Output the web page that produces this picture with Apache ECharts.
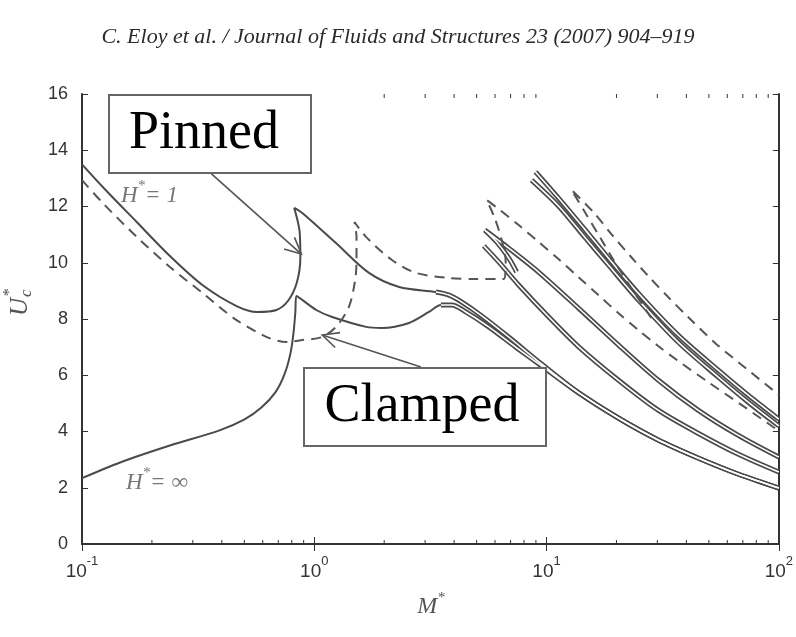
<!DOCTYPE html>
<html>
<head>
<meta charset="utf-8">
<title>Uc* vs M*</title>
<style>
html, body { width: 100%; height: 100%; margin: 0; background: #fff; }
#box1 { width: 796px; height: 637px; }
</style>
</head>
<body>
<div id="box1"></div>
<script src="https://cdn.jsdelivr.net/npm/echarts@6/dist/echarts.min.js"></script>
<script>
// axis values
var yTicks = [0, 2, 4, 6, 8, 10, 12, 14, 16];
var minorTicks = [0.2, 0.3, 0.4, 0.5, 0.6, 0.7, 0.8, 0.9, 2, 3, 4, 5, 6, 7, 8, 9, 20, 30, 40, 50, 60, 70, 80, 90];

// curves, [M*, Uc*]
var solidUpper = [[0.1,13.5],[0.124,12.66],[0.172,11.45],[0.239,10.24],[0.331,9.2],[0.463,8.46],[0.569,8.25],[0.687,8.32],[0.77,8.64],[0.84,9.28],[0.871,10.17],[0.865,11.1],[0.82,11.95],[0.888,11.77],[1.24,10.7],[1.72,9.64],[2.32,9.14],[3.34,8.96],[3.8,8.85],[4.32,8.6],[5.26,8.11],[6.87,7.36],[9.52,6.4],[13.72,5.38],[20.37,4.48],[30.24,3.7],[44.91,3.06],[66.68,2.49],[100,1.99]];
var solidLower = [[0.1,2.34],[0.146,2.9],[0.239,3.5],[0.391,4.04],[0.501,4.43],[0.592,4.85],[0.68,5.39],[0.744,6.03],[0.789,6.76],[0.813,7.47],[0.829,8.25],[0.837,8.82],[1.02,8.32],[1.195,8.07],[1.672,7.72],[1.958,7.68],[2.557,7.86],[3.116,8.25],[3.509,8.5],[3.91,8.5],[4.491,8.25],[5.638,7.72],[7.362,7.0],[9.52,6.33],[13.72,5.38],[20.37,4.48],[30.24,3.7],[44.91,3.06],[66.68,2.49],[100,1.99]];
var mode2a = [[7.43,9.67],[6.87,10.17],[6.1,10.74],[5.42,11.16],[6.87,10.52],[9.24,9.67],[13.72,8.39],[20.37,7.08],[30.24,5.83],[44.91,4.76],[66.68,3.87],[100,3.09]];
var mode2b = [[5.366,10.6],[6.223,10.03],[7.584,9.21],[10.2,8.08],[13.72,7.02],[20.37,5.83],[30.24,4.76],[44.91,3.94],[66.68,3.2],[100,2.56]];
var mode3a = [[8.97,13.23],[11.26,12.3],[14.7,11.16],[18.46,10.17],[24.82,8.92],[36.86,7.43],[54.73,6.19],[73.62,5.3],[100,4.44]];
var mode3b = [[8.62,12.94],[11.26,12.02],[14.7,10.88],[18.46,9.92],[24.82,8.68],[36.86,7.18],[54.73,5.94],[73.62,5.05],[100,4.2]];
var dashedMain = [[0.1,12.94],[0.123,12.12],[0.172,10.92],[0.239,9.85],[0.331,8.92],[0.463,7.96],[0.641,7.32],[0.76,7.18],[0.888,7.25],[1.08,7.36],[1.24,7.72],[1.41,8.43],[1.5,9.39],[1.52,10.1],[1.52,10.92],[1.49,11.45],[1.67,10.92],[2.16,10.1],[2.74,9.64],[3.79,9.46],[5.0,9.42],[6.54,9.42],[6.67,10.03],[6.41,10.81],[5.98,11.59],[5.527,12.23],[6.223,11.91],[7.584,11.34],[9.24,10.74],[11.26,10.13],[13.72,9.49],[16.72,8.85],[20.37,8.21],[24.82,7.61],[30.24,7.04],[36.86,6.51],[49.58,5.76],[70.07,4.91],[100,4.02]];
var dashedHigh = [[28.22,8.04],[23.17,9.1],[19.78,9.99],[17.06,10.88],[14.7,11.77],[12.8,12.59],[15.91,11.8],[19.01,11.02],[22.94,10.24],[27.4,9.53],[33.39,8.78],[40.68,8.07],[53.14,7.15],[73.62,6.19],[100,5.3]];

// annotation arrows [fromM, fromU, toM, toU]
var arrowPinned = [0.361, 13.16, 0.88, 10.31];
var arrowClamped = [2.88, 6.29, 1.082, 7.43];

var myChart = echarts.init(document.getElementById('box1'));

var ink = '#4a4a4a';
var serif = 'Liberation Serif';
var sans = 'Liberation Sans';

function lineSeries(data, color, width, dash) {
	return {
		type: 'line',
		data: data,
		symbol: 'none',
		smooth: 0.3,
		silent: true,
		lineStyle: { color: color, width: width, type: dash || 'solid' }
	};
}

// parts drawn as a double (outlined) line
function rightPart(data) {
	return data.filter(function (p) { return p[0] >= 3.3; });
}

var doubled = [rightPart(solidUpper), rightPart(solidLower), mode2a, mode2b, mode3a, mode3b];

var series = [];
series.push(lineSeries(solidUpper, ink, 2));
series.push(lineSeries(solidLower, ink, 2));
doubled.forEach(function (d) { series.push(lineSeries(d, ink, 5)); });
doubled.forEach(function (d) { series.push(lineSeries(d, '#fff', 1.6)); });
series.push(lineSeries(dashedMain, '#555', 2, [10, 7]));
series.push(lineSeries(dashedHigh, '#555', 2, [10, 7]));

// minor log ticks on bottom and top edges
series.push({
	type: 'custom',
	silent: true,
	data: minorTicks.map(function (v) { return [v, 0]; }),
	renderItem: function (params, api) {
		var b = api.coord([api.value(0), 0]);
		var t = api.coord([api.value(0), 16]);
		var st = { stroke: '#333', lineWidth: 1 };
		return {
			type: 'group',
			children: [
				{ type: 'line', shape: { x1: b[0], y1: b[1], x2: b[0], y2: b[1] - 4 }, style: st },
				{ type: 'line', shape: { x1: t[0], y1: t[1], x2: t[0], y2: t[1] + 4 }, style: st }
			]
		};
	}
});

// annotation arrows
series.push({
	type: 'custom',
	silent: true,
	z: 5,
	data: [arrowPinned, arrowClamped],
	renderItem: function (params, api) {
		var p = api.coord([api.value(0), api.value(1)]);
		var q = api.coord([api.value(2), api.value(3)]);
		var a = Math.atan2(q[1] - p[1], q[0] - p[0]);
		var L = 18, w = 0.45;
		var h1 = [q[0] - L * Math.cos(a - w), q[1] - L * Math.sin(a - w)];
		var h2 = [q[0] - L * Math.cos(a + w), q[1] - L * Math.sin(a + w)];
		var st = { stroke: '#555', lineWidth: 1.6, fill: null };
		return {
			type: 'group',
			children: [
				{ type: 'line', shape: { x1: p[0], y1: p[1], x2: q[0], y2: q[1] }, style: st },
				{ type: 'polyline', shape: { points: [h1, q, h2] }, style: st }
			]
		};
	}
});

var supRich = {
	b: { fontFamily: sans, fontSize: 19, color: '#333', lineHeight: 26, verticalAlign: 'bottom' },
	s: { fontFamily: sans, fontSize: 13, color: '#333', lineHeight: 26, verticalAlign: 'top' }
};

var hRich = {
	h: { font: 'italic 23px ' + serif, fill: '#777', lineHeight: 28, verticalAlign: 'bottom' },
	s: { font: 'italic 15px ' + serif, fill: '#777', lineHeight: 28, verticalAlign: 'top' }
};

var option = {
	backgroundColor: '#fff',
	animation: false,
	grid: { left: 82, right: 15, top: 94, bottom: 93, containLabel: false },
	xAxis: [{
		type: 'log', logBase: 10, min: 0.1, max: 100,
		axisLine: { lineStyle: { color: '#333', width: 2 } },
		axisTick: { inside: true, length: 7, lineStyle: { color: '#333' } },
		splitLine: { show: false },
		axisLabel: {
			margin: 11,
			formatter: function (v) {
				var e = Math.round(Math.log(v) / Math.LN10);
				return '{b|10}{s|' + e + '}';
			},
			rich: supRich
		}
	}, {
		type: 'log', logBase: 10, min: 0.1, max: 100, position: 'top',
		axisLine: { lineStyle: { color: '#333', width: 2 } },
		axisTick: { inside: true, length: 7, lineStyle: { color: '#333' } },
		splitLine: { show: false },
		axisLabel: { show: false }
	}],
	yAxis: [{
		type: 'value', min: 0, max: 16, interval: 2,
		axisLine: { show: true, lineStyle: { color: '#333', width: 2 } },
		axisTick: { show: true, inside: true, length: 6, lineStyle: { color: '#333' } },
		splitLine: { show: false },
		axisLabel: { margin: 14, fontFamily: sans, fontSize: 18, color: '#333' }
	}, {
		type: 'value', min: 0, max: 16, interval: 2, position: 'right',
		axisLine: { show: true, lineStyle: { color: '#333', width: 2 } },
		axisTick: { show: true, inside: true, length: 6, lineStyle: { color: '#333' } },
		splitLine: { show: false },
		axisLabel: { show: false }
	}],
	series: series,
	graphic: [
		{
			type: 'text', left: 'center', top: 26, z: 100,
			style: { text: 'C. Eloy et al. / Journal of Fluids and Structures 23 (2007) 904\u2013919', font: 'italic 22px ' + serif, fill: '#2a2a2a' }
		},
		{
			type: 'text', x: 431, y: 605, z: 100,
			style: {
				text: '{m|M}{s|*}', align: 'center', verticalAlign: 'middle',
				rich: {
					m: { font: 'italic 24px ' + serif, fill: '#555', lineHeight: 28, verticalAlign: 'bottom' },
					s: { font: 'italic 15px ' + serif, fill: '#555', lineHeight: 28, verticalAlign: 'top' }
				}
			}
		},
		{
			type: 'group', x: 20, y: 297, rotation: Math.PI / 2, z: 100,
			children: [
				{ type: 'text', x: -1, y: 0, style: { text: 'U', font: 'italic 25px ' + serif, fill: '#555', align: 'right', verticalAlign: 'middle' } },
				{ type: 'text', x: 0, y: -10, style: { text: '*', font: 'italic 16px ' + serif, fill: '#555', align: 'left', verticalAlign: 'middle' } },
				{ type: 'text', x: 0, y: 7, style: { text: 'c', font: 'italic 17px ' + serif, fill: '#555', align: 'left', verticalAlign: 'middle' } }
			]
		},
		{
			type: 'text', x: 121, y: 193, z: 100,
			style: { text: '{h|H}{s|*}{h|= 1}', verticalAlign: 'middle', rich: hRich }
		},
		{
			type: 'text', x: 126, y: 480, z: 100,
			style: { text: '{h|H}{s|*}{h|= \u221e}', verticalAlign: 'middle', rich: hRich }
		},
		{
			type: 'rect', z: 100,
			shape: { x: 109, y: 95, width: 202, height: 78 },
			style: { fill: '#fff', stroke: '#666', lineWidth: 2 }
		},
		{
			type: 'text', x: 204, y: 134, z: 101,
			style: { text: 'Pinned', font: '54px ' + serif, fill: '#000', align: 'center', verticalAlign: 'middle' }
		},
		{
			type: 'rect', z: 100,
			shape: { x: 304, y: 368, width: 242, height: 78 },
			style: { fill: '#fff', stroke: '#666', lineWidth: 2 }
		},
		{
			type: 'text', x: 422, y: 407, z: 101,
			style: { text: 'Clamped', font: '54px ' + serif, fill: '#000', align: 'center', verticalAlign: 'middle' }
		}
	]
};

myChart.setOption(option);
</script>
</body>
</html>
